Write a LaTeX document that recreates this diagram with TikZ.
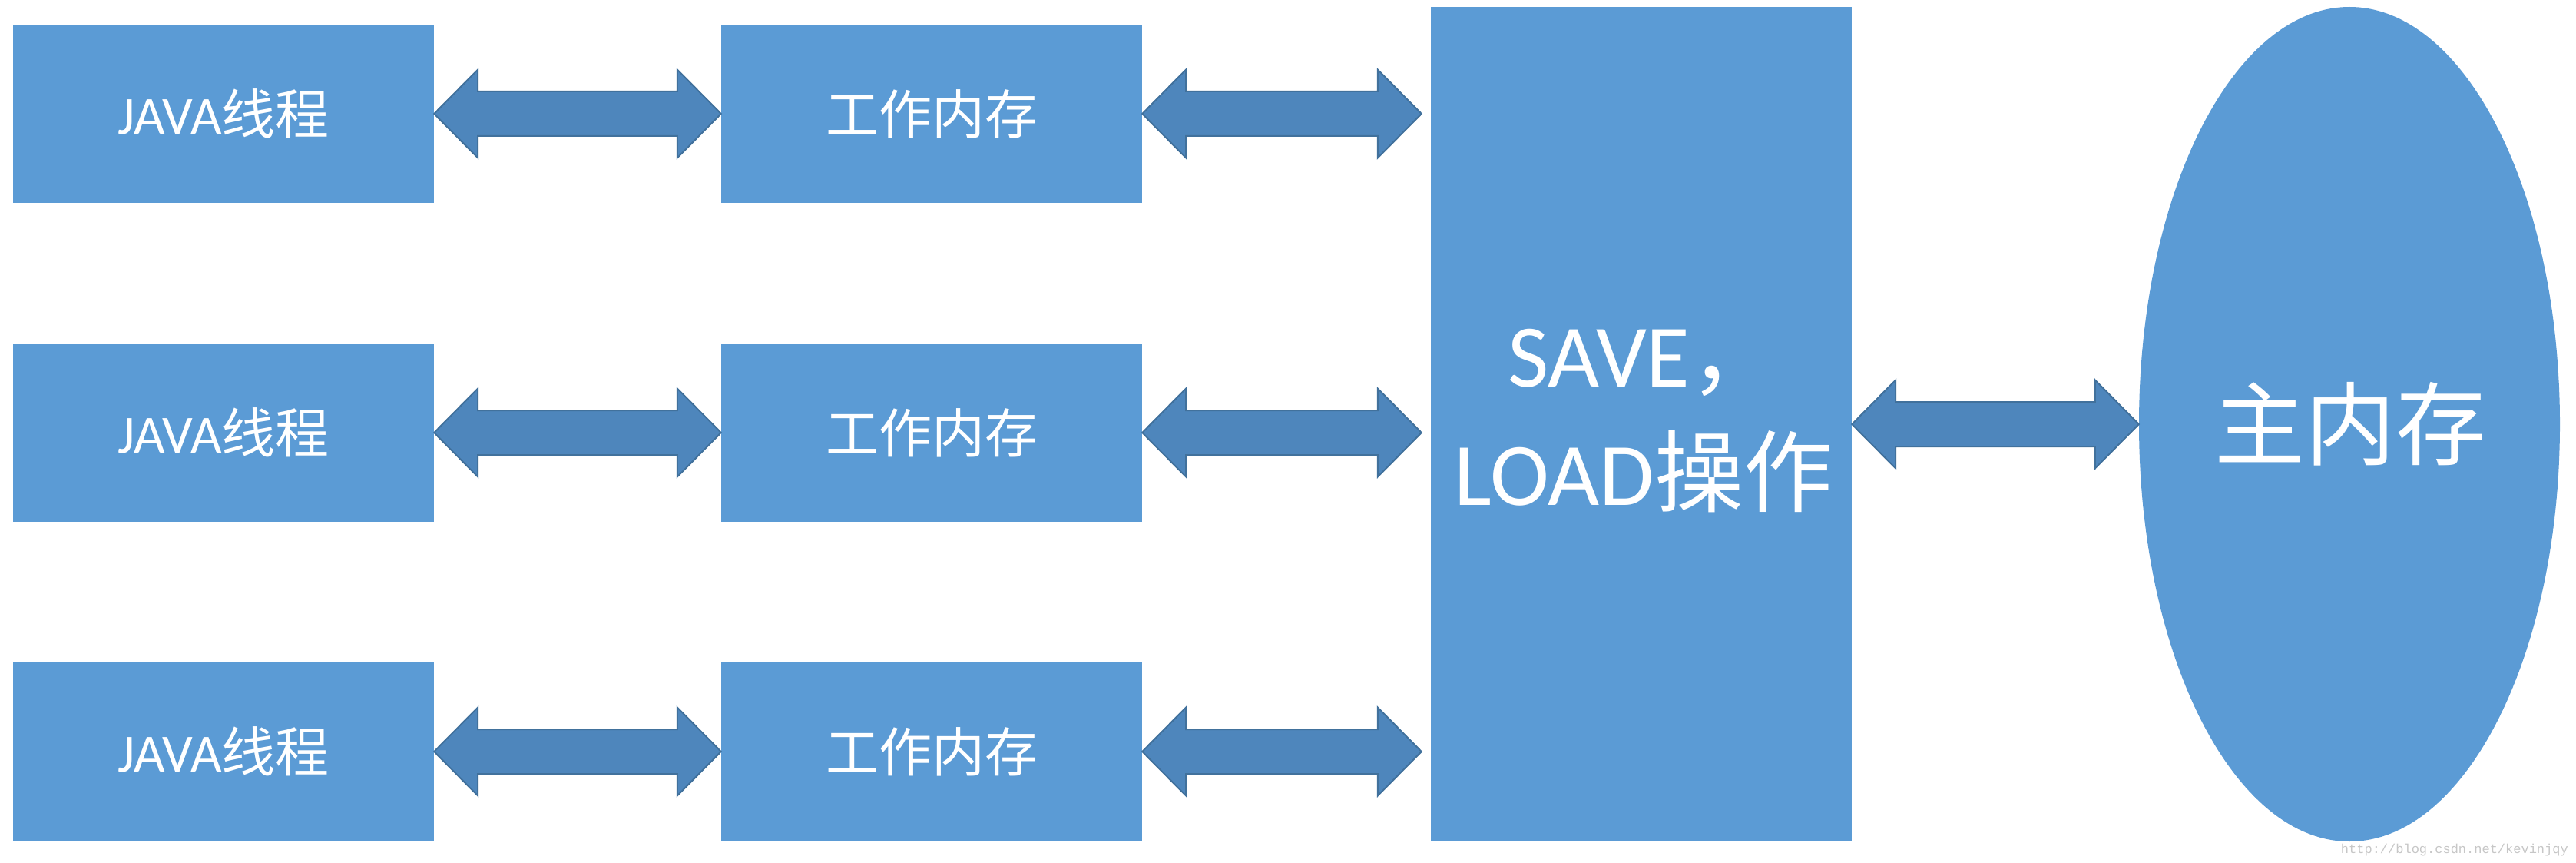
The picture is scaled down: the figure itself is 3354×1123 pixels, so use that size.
\documentclass[tikz,border=0pt]{standalone}
\usepackage{fontspec}
\setmainfont{Carlito}
\newfontfamily\cjk{Noto Sans CJK SC}
\newfontfamily\wmfont{Liberation Mono}
\usetikzlibrary{calc,shapes.geometric}
\definecolor{boxblue}{RGB}{91,155,213}
\definecolor{arrowfill}{RGB}{78,134,188}
\definecolor{arrowline}{RGB}{65,113,156}
\tikzset{
  blk/.style={fill=boxblue, draw=none, minimum width=548pt, minimum height=232pt,
              inner sep=0pt, text=white, font=\fontsize{70}{80}\selectfont},
  bigblk/.style={fill=boxblue, draw=none, minimum width=548pt, minimum height=1086pt,
              inner sep=0pt},
  mem/.style={ellipse, fill=boxblue, draw=none, minimum width=548pt, minimum height=1086pt,
              inner sep=0pt},
  bigtext/.style={text=white, align=center, font=\fontsize{116}{154}\selectfont},
  arrowshape/.style={fill=arrowfill, draw=arrowline, line width=2pt, line join=miter},
}
\newcommand\dblarr[2]{%
  \filldraw[arrowshape] let \p1=(#1), \p2=(#2) in
    (\x1,\y1) -- (\x1+57pt,\y1+57.5pt) -- (\x1+57pt,\y1+29pt) -- (\x2-57pt,\y1+29pt)
    -- (\x2-57pt,\y1+57.5pt) -- (\x2,\y1) -- (\x2-57pt,\y1-57.5pt) -- (\x2-57pt,\y1-29pt)
    -- (\x1+57pt,\y1-29pt) -- (\x1+57pt,\y1-57.5pt) -- cycle;}
\begin{document}
\begin{tikzpicture}[x=1pt,y=-1pt]
\useasboundingbox[fill=white] (0,0) rectangle (3354,1123);
% left column
\node[blk] (t1) at (291,148) {JAVA{\cjk 线程}};
\node[blk] (t2) at (291,563) {JAVA{\cjk 线程}};
\node[blk] (t3) at (291,978) {JAVA{\cjk 线程}};
% middle column
\node[blk,font=\cjk\fontsize{69}{80}\selectfont] (w1) at (1213,148) {工作内存};
\node[blk,font=\cjk\fontsize{69}{80}\selectfont] (w2) at (1213,563) {工作内存};
\node[blk,font=\cjk\fontsize{69}{80}\selectfont] (w3) at (1213,978) {工作内存};
% big box
\node[bigblk] (op) at (2137,552) {};
\node[bigtext] (optext) at (2140,548) {SAVE{\cjk ，}\\LOAD{\cjk 操作}};
% main memory
\node[mem] (mm) at (3059,552) {};
\node[text=white, font=\cjk\fontsize{118}{130}\selectfont] (mmtext) at (3060,552) {主内存};
% connector end points near the big box
\coordinate (e1) at ([xshift=-12pt]op.west |- w1.east);
\coordinate (e2) at ([xshift=-12pt]op.west |- w2.east);
\coordinate (e3) at ([xshift=-12pt]op.west |- w3.east);
% arrows
\dblarr{t1.east}{w1.west}
\dblarr{t2.east}{w2.west}
\dblarr{t3.east}{w3.west}
\dblarr{w1.east}{e1}
\dblarr{w2.east}{e2}
\dblarr{w3.east}{e3}
\dblarr{op.east}{mm.west}
% watermark
\node[anchor=south east, inner sep=0pt, text=black!22, font=\wmfont\fontsize{17}{18}\selectfont] (wm) at (3344,1114) {http://blog.csdn.net/kevinjqy};
\end{tikzpicture}
\end{document}
